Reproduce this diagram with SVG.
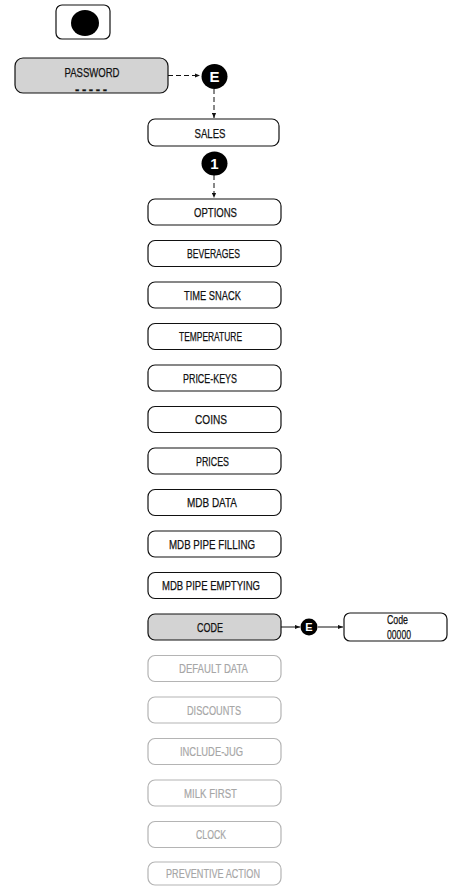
<svg xmlns="http://www.w3.org/2000/svg" width="449" height="886" viewBox="0 0 449 886">
<style>
.bg{fill:#ffffff}
.box{fill:#ffffff;stroke:#111;stroke-width:1.2}
.gbox{fill:#d3d3d3;stroke:#111;stroke-width:1.2}
.fbox{fill:#ffffff;stroke:#b4b4b4;stroke-width:1.2}
.t{font-family:"Liberation Sans",Arial,sans-serif;font-size:13px;fill:#111;stroke:#111;stroke-width:0.25;text-anchor:middle}
.ft{font-family:"Liberation Sans",Arial,sans-serif;font-size:13px;fill:#a6a6a6;stroke:#a6a6a6;stroke-width:0.2;text-anchor:middle}
.badge{fill:#000}
.bt{font-family:"Liberation Sans",Arial,sans-serif;font-weight:bold;fill:#fff;text-anchor:middle}
.dash{stroke:#111;stroke-width:1;stroke-dasharray:5,3;fill:none}
.solid{stroke:#111;stroke-width:1;fill:none}
</style>
<defs>
<marker id="arr" viewBox="0 0 6 6" refX="6" refY="3" markerWidth="5" markerHeight="5" orient="auto">
<path d="M0,0.5 L6,3 L0,5.5 Z" fill="#111"/>
</marker>
</defs>
<rect class="bg" x="0" y="0" width="449" height="886"/>

<g id="connectors">
<line class="dash" x1="168" y1="75.5" x2="200" y2="75.5" marker-end="url(#arr)"/>
<line class="dash" x1="214" y1="89" x2="214" y2="118" marker-end="url(#arr)"/>
<line class="dash" x1="214" y1="175" x2="214" y2="198" marker-end="url(#arr)"/>
<line class="solid" x1="281" y1="627" x2="300" y2="627" marker-end="url(#arr)"/>
<line class="solid" x1="318" y1="627" x2="343" y2="627" marker-end="url(#arr)"/>
</g>

<g id="start-button">
<rect class="box" x="56" y="5" width="54" height="34" rx="6"/>
<ellipse class="badge" cx="85" cy="23" rx="14" ry="13"/>
</g>

<g id="password">
<rect class="gbox" x="15" y="58" width="153" height="35" rx="8"/>
<text class="t" x="92" y="77" textLength="55" lengthAdjust="spacingAndGlyphs">PASSWORD</text>
<text class="t" x="91" y="94" font-weight="bold" font-size="14" textLength="32" lengthAdjust="spacing">-----</text>
</g>

<g id="badge-e1">
<ellipse class="badge" cx="214.5" cy="76.5" rx="13" ry="12.5"/>
<text class="bt" x="214.5" y="82" font-size="15">E</text>
</g>

<g id="sales">
<rect class="box" x="148" y="119" width="131" height="27" rx="7"/>
<text class="t" x="210" y="137.5" textLength="31" lengthAdjust="spacingAndGlyphs">SALES</text>
</g>

<g id="badge-1">
<ellipse class="badge" cx="214.5" cy="163.5" rx="13" ry="12"/>
<text class="bt" x="214.5" y="169" font-size="15">1</text>
</g>

<g id="options"><rect class="box" x="148" y="199" width="133" height="26" rx="7"/><text class="t" x="215.5" y="216.5" textLength="43" lengthAdjust="spacingAndGlyphs">OPTIONS</text></g>
<g id="beverages"><rect class="box" x="148" y="240.5" width="133" height="26" rx="7"/><text class="t" x="213.5" y="258" textLength="53" lengthAdjust="spacingAndGlyphs">BEVERAGES</text></g>
<g id="time-snack"><rect class="box" x="148" y="282" width="133" height="26" rx="7"/><text class="t" x="212.5" y="299.5" textLength="57" lengthAdjust="spacingAndGlyphs">TIME SNACK</text></g>
<g id="temperature"><rect class="box" x="148" y="323.5" width="133" height="26" rx="7"/><text class="t" x="210.5" y="341" textLength="63" lengthAdjust="spacingAndGlyphs">TEMPERATURE</text></g>
<g id="price-keys"><rect class="box" x="148" y="365" width="133" height="26" rx="7"/><text class="t" x="210" y="382.5" textLength="54" lengthAdjust="spacingAndGlyphs">PRICE-KEYS</text></g>
<g id="coins"><rect class="box" x="148" y="406.5" width="133" height="26" rx="7"/><text class="t" x="211" y="424" textLength="32" lengthAdjust="spacingAndGlyphs">COINS</text></g>
<g id="prices"><rect class="box" x="148" y="448" width="133" height="26" rx="7"/><text class="t" x="212.5" y="465.5" textLength="33" lengthAdjust="spacingAndGlyphs">PRICES</text></g>
<g id="mdb-data"><rect class="box" x="148" y="489.5" width="133" height="26" rx="7"/><text class="t" x="212" y="507" textLength="50" lengthAdjust="spacingAndGlyphs">MDB DATA</text></g>
<g id="mdb-pipe-filling"><rect class="box" x="148" y="531" width="133" height="26" rx="7"/><text class="t" x="212" y="548.5" textLength="86" lengthAdjust="spacingAndGlyphs">MDB PIPE FILLING</text></g>
<g id="mdb-pipe-emptying"><rect class="box" x="148" y="572.5" width="133" height="26" rx="7"/><text class="t" x="211" y="590" textLength="98" lengthAdjust="spacingAndGlyphs">MDB PIPE EMPTYING</text></g>
<g id="code"><rect class="gbox" x="148" y="614" width="133" height="26" rx="7"/><text class="t" x="210" y="631.5" textLength="26" lengthAdjust="spacingAndGlyphs">CODE</text></g>

<g id="badge-e2">
<ellipse class="badge" cx="309" cy="627" rx="8.5" ry="8.5"/>
<text class="bt" x="309" y="631" font-size="11">E</text>
</g>

<g id="code-entry">
<rect class="box" x="344" y="613" width="103" height="28" rx="6"/>
<text class="t" x="397.5" y="624" font-size="10" textLength="21" lengthAdjust="spacingAndGlyphs">Code</text>
<text class="t" x="399" y="638.5" font-size="9" textLength="24" lengthAdjust="spacingAndGlyphs">00000</text>
</g>

<g id="default-data"><rect class="fbox" x="148" y="655.5" width="133" height="26" rx="7"/><text class="ft" x="213.5" y="673" textLength="69" lengthAdjust="spacingAndGlyphs">DEFAULT DATA</text></g>
<g id="discounts"><rect class="fbox" x="148" y="697" width="133" height="26" rx="7"/><text class="ft" x="214" y="714.5" textLength="54" lengthAdjust="spacingAndGlyphs">DISCOUNTS</text></g>
<g id="include-jug"><rect class="fbox" x="148" y="738.5" width="133" height="26" rx="7"/><text class="ft" x="211.5" y="756" textLength="63" lengthAdjust="spacingAndGlyphs">INCLUDE-JUG</text></g>
<g id="milk-first"><rect class="fbox" x="148" y="780" width="133" height="26" rx="7"/><text class="ft" x="210.5" y="797.5" textLength="53" lengthAdjust="spacingAndGlyphs">MILK FIRST</text></g>
<g id="clock"><rect class="fbox" x="148" y="821.5" width="133" height="26" rx="7"/><text class="ft" x="211" y="839" textLength="30" lengthAdjust="spacingAndGlyphs">CLOCK</text></g>
<g id="preventive-action"><rect class="fbox" x="148" y="862" width="133" height="23" rx="7"/><text class="ft" x="213" y="878" textLength="94" lengthAdjust="spacingAndGlyphs">PREVENTIVE ACTION</text></g>
</svg>
